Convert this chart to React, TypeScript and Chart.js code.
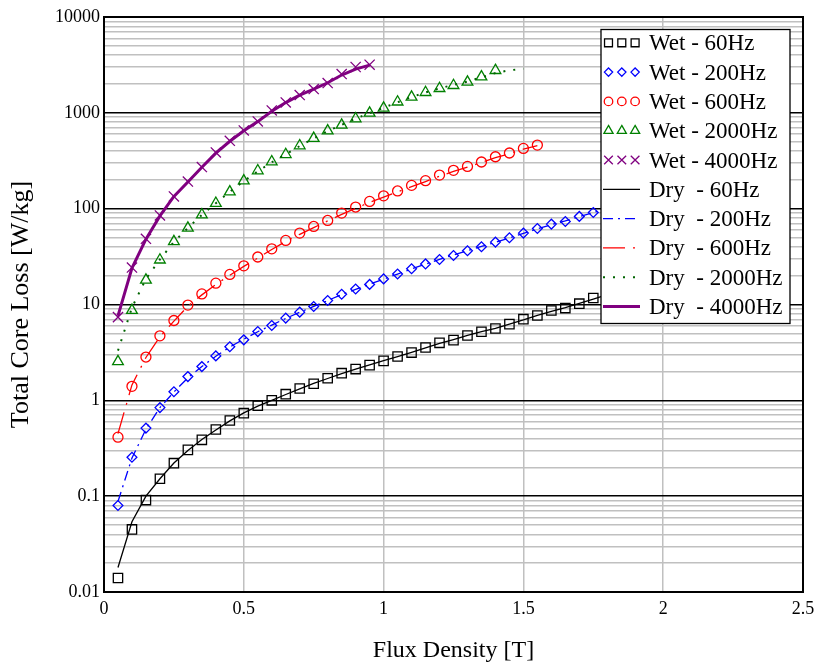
import { useEffect, useRef } from 'react';
import { Chart, registerables } from 'chart.js';

Chart.register(...registerables);

const SERIF = "'Liberation Serif', 'Times New Roman', serif";

// Flux density sampling points [T]
const FLUX = [
  0.05, 0.1, 0.15, 0.2, 0.25, 0.3, 0.35, 0.4, 0.45, 0.5,
  0.55, 0.6, 0.65, 0.7, 0.75, 0.8, 0.85, 0.9, 0.95, 1.0,
  1.05, 1.1, 1.15, 1.2, 1.25, 1.3, 1.35, 1.4, 1.45, 1.5,
  1.55, 1.6, 1.65, 1.7, 1.75, 1.8,
];

// Total core loss [W/kg], wet samples (markers)
const WET_60 = [
  0.014, 0.045, 0.091, 0.152, 0.221, 0.304, 0.387, 0.496, 0.616, 0.735,
  0.88, 1.0, 1.16, 1.33, 1.49, 1.7, 1.92, 2.12, 2.33, 2.58,
  2.87, 3.15, 3.56, 3.98, 4.25, 4.75, 5.19, 5.62, 6.24, 7.03,
  7.68, 8.65, 9.17, 10.2, 11.7,
];
const WET_200 = [
  0.08, 0.255, 0.513, 0.84, 1.23, 1.77, 2.25, 2.91, 3.62, 4.28,
  5.22, 6.04, 7.21, 8.32, 9.52, 11.0, 12.8, 14.5, 16.2, 18.5,
  20.8, 23.6, 26.5, 29.5, 32.5, 36.4, 40.0, 44.8, 49.7, 55.6,
  62.1, 69.0, 73.5, 83.0, 91.2,
];
const WET_600 = [
  0.413, 1.4, 2.83, 4.71, 6.81, 9.86, 12.9, 16.7, 20.6, 25.3,
  31.3, 38.1, 46.6, 55.6, 65.2, 75.3, 90, 104, 119, 136,
  153, 175, 196, 224, 251, 276, 307, 348, 381, 425,
  461,
];
const WET_2000 = [
  2.54, 8.7, 18.0, 29.2, 45.3, 62.7, 86.5, 114, 150, 195,
  249, 309, 368, 454, 542, 650, 746, 869, 995, 1120,
  1300, 1462, 1633, 1798, 1932, 2094, 2377, 2772,
];
const WET_4000 = [
  7.39, 24.3, 48.5, 84.9, 134, 192, 272, 386, 511, 655,
  813, 1059, 1284, 1534, 1772, 2046, 2539, 3008, 3178,
];

// Total core loss [W/kg], dry measurements (lines)
const DRY_60 = [
  0.018, 0.054, 0.1, 0.152, 0.222, 0.3, 0.39, 0.49, 0.61, 0.74,
  0.87, 1.0, 1.15, 1.32, 1.5, 1.69, 1.9, 2.12, 2.35, 2.6,
  2.86, 3.17, 3.52, 3.92, 4.3, 4.75, 5.2, 5.65, 6.25, 6.9,
  7.7, 8.5, 9.3, 10.3, 11.4, 12.7,
];
const DRY_200 = [
  0.088, 0.25, 0.5, 0.84, 1.22, 1.72, 2.25, 2.88, 3.6, 4.35,
  5.2, 6.1, 7.15, 8.3, 9.55, 11.0, 12.7, 14.4, 16.3, 18.4,
  20.8, 23.5, 26.4, 29.6, 32.8, 36.5, 40.3, 44.6, 49.6, 55.2,
  61.5, 68.0, 74.5, 82.5, 91.0, 100,
];
const DRY_600 = [
  0.45, 1.45, 2.8, 4.6, 6.7, 9.6, 12.6, 16.2, 20.2, 25.0,
  30.5, 37.5, 45.5, 54, 63.5, 74.5, 87, 101, 116, 132,
  150, 170, 192, 218, 245, 272, 303, 340, 375, 418,
  455,
];
const DRY_2000 = [
  3.3, 9.3, 18.5, 29.5, 45, 63, 86, 114, 150, 194,
  245, 305, 370, 450, 540, 645, 750, 870, 995, 1130,
  1290, 1460, 1630, 1800, 1960, 2120, 2350, 2600, 2780, 2880,
];
const DRY_4000 = [
  7.6, 24, 48, 84, 134, 190, 270, 380, 505, 650,
  810, 1040, 1280, 1530, 1770, 2060, 2480, 2860, 3150,
];

const X_TICKS = [0, 0.5, 1, 1.5, 2, 2.5];
const Y_DECADES = [0.01, 0.1, 1, 10, 100, 1000, 10000];

type Marker = 'rect' | 'rectRot' | 'circle' | 'triangle' | 'crossRot';

interface WetSeries { label: string; values: number[]; color: string; marker: Marker; radius: number; }
interface DrySeries { label: string; values: number[]; color: string; width: number; dash: number[]; }

const WET_SERIES: WetSeries[] = [
  { label: 'Wet - 60Hz', values: WET_60, color: '#000000', marker: 'rect', radius: 6.6 },
  { label: 'Wet - 200Hz', values: WET_200, color: '#0000ff', marker: 'rectRot', radius: 4.9 },
  { label: 'Wet - 600Hz', values: WET_600, color: '#ff0000', marker: 'circle', radius: 5 },
  { label: 'Wet - 2000Hz', values: WET_2000, color: '#008000', marker: 'triangle', radius: 6.2 },
  { label: 'Wet - 4000Hz', values: WET_4000, color: '#800080', marker: 'crossRot', radius: 7.2 },
];

const DRY_SERIES: DrySeries[] = [
  { label: 'Dry  - 60Hz', values: DRY_60, color: '#000000', width: 1.3, dash: [] },
  { label: 'Dry  - 200Hz', values: DRY_200, color: '#0000ff', width: 1.3, dash: [10, 5, 2, 5] },
  { label: 'Dry  - 600Hz', values: DRY_600, color: '#ff0000', width: 1.3, dash: [22, 8, 2, 8] },
  { label: 'Dry  - 2000Hz', values: DRY_2000, color: '#006400', width: 2, dash: [2, 8] },
  { label: 'Dry  - 4000Hz', values: DRY_4000, color: '#800080', width: 3, dash: [] },
];

const toPoints = (values: number[]) => values.map((y, i) => ({ x: FLUX[i], y }));

const isDecade = (v: number) => {
  const l = Math.log10(v);
  return Math.abs(l - Math.round(l)) < 1e-9;
};

const formatDecade = (v: number) =>
  v >= 1 ? String(Math.round(v)) : v.toFixed(Math.round(-Math.log10(v)));

// 1..9 multiples in each decade for the minor grid
const LOG_TICKS: number[] = (() => {
  const out: number[] = [];
  for (let d = 0; d < Y_DECADES.length - 1; d++) {
    for (let k = 1; k <= 9; k++) out.push(parseFloat((Y_DECADES[d] * k).toPrecision(3)));
  }
  out.push(Y_DECADES[Y_DECADES.length - 1]);
  return out;
})();

function drawMarker(ctx: CanvasRenderingContext2D, marker: Marker, x: number, y: number, r: number) {
  ctx.beginPath();
  switch (marker) {
    case 'rect': {
      const s = r * Math.SQRT1_2;
      ctx.rect(x - s, y - s, 2 * s, 2 * s);
      break;
    }
    case 'rectRot':
      ctx.moveTo(x - r, y);
      ctx.lineTo(x, y - r);
      ctx.lineTo(x + r, y);
      ctx.lineTo(x, y + r);
      ctx.closePath();
      break;
    case 'circle':
      ctx.arc(x, y, r, 0, Math.PI * 2);
      break;
    case 'triangle': {
      const a = (2 * Math.PI) / 3;
      ctx.moveTo(x, y - r);
      ctx.lineTo(x + Math.sin(a) * r, y - Math.cos(a) * r);
      ctx.lineTo(x + Math.sin(2 * a) * r, y - Math.cos(2 * a) * r);
      ctx.closePath();
      break;
    }
    case 'crossRot': {
      const s = r * Math.SQRT1_2;
      ctx.moveTo(x - s, y - s);
      ctx.lineTo(x + s, y + s);
      ctx.moveTo(x + s, y - s);
      ctx.lineTo(x - s, y + s);
      break;
    }
  }
  ctx.stroke();
}

const frameAndLegend = {
  id: 'frameAndLegend',
  afterDatasetsDraw(chart: Chart) {
    const { ctx, chartArea } = chart;
    ctx.save();
    ctx.strokeStyle = '#000';
    ctx.lineWidth = 2;
    ctx.strokeRect(chartArea.left, chartArea.top, chartArea.right - chartArea.left, chartArea.bottom - chartArea.top);
    ctx.restore();
  },
  afterDraw(chart: Chart) {
    const { ctx, chartArea } = chart;
    const left = chartArea.right - 202;
    const top = chartArea.top + 12.5;
    const width = 189;
    const height = 294;
    const rowGap = 29.3;
    ctx.save();
    ctx.fillStyle = '#fff';
    ctx.fillRect(left, top, width, height);
    ctx.strokeStyle = '#000';
    ctx.lineWidth = 1.3;
    ctx.strokeRect(left, top, width, height);

    ctx.font = `23px ${SERIF}`;
    ctx.textBaseline = 'middle';
    ctx.textAlign = 'left';

    let row = 0;
    for (const s of WET_SERIES) {
      const cy = top + 13.3 + row * rowGap;
      ctx.strokeStyle = s.color;
      ctx.lineWidth = 1.3;
      for (let k = 0; k < 3; k++) drawMarker(ctx, s.marker, left + 7.5 + k * 13.3, cy, s.radius * 0.85);
      ctx.fillStyle = '#000';
      ctx.fillText(s.label, left + 48, cy + 1.5);
      row++;
    }
    for (const s of DRY_SERIES) {
      const cy = top + 13.3 + row * rowGap;
      ctx.strokeStyle = s.color;
      ctx.lineWidth = s.width;
      ctx.setLineDash(s.dash);
      ctx.beginPath();
      ctx.moveTo(left + 2, cy);
      ctx.lineTo(left + 39, cy);
      ctx.stroke();
      ctx.setLineDash([]);
      ctx.fillStyle = '#000';
      ctx.fillText(s.label, left + 48, cy + 1.5);
      row++;
    }
    ctx.restore();
  },
};

export default function App() {
  const canvasRef = useRef<HTMLCanvasElement>(null);

  useEffect(() => {
    document.body.style.margin = '0';
    const canvas = canvasRef.current;
    if (!canvas) return;

    const datasets: any[] = [
      ...WET_SERIES.map((s) => ({
        label: s.label,
        data: toPoints(s.values),
        showLine: false,
        pointStyle: s.marker,
        pointRadius: s.radius,
        pointBorderWidth: 1.3,
        pointBorderColor: s.color,
        pointBackgroundColor: 'rgba(0,0,0,0)',
        borderColor: s.color,
        order: 2,
      })),
      ...DRY_SERIES.map((s) => ({
        label: s.label,
        data: toPoints(s.values),
        showLine: true,
        pointRadius: 0,
        borderColor: s.color,
        borderWidth: s.width,
        borderDash: s.dash,
        tension: 0,
        fill: false,
        order: 1,
      })),
    ];

    const chart = new Chart(canvas, {
      type: 'scatter',
      data: { datasets },
      options: {
        animation: false,
        responsive: false,
        events: [],
        layout: { padding: { top: 17, right: 15, left: 0, bottom: 0 } },
        plugins: {
          legend: { display: false },
          tooltip: { enabled: false },
        },
        scales: {
          x: {
            type: 'linear',
            min: 0,
            max: 2.5,
            afterBuildTicks: (scale: any) => {
              scale.ticks = X_TICKS.map((v) => ({ value: v }));
            },
            afterFit: (scale: any) => {
              scale.height = 73;
              scale.paddingLeft = 0;
              scale.paddingRight = 0;
            },
            ticks: {
              autoSkip: false,
              padding: 6,
              color: '#000',
              font: { family: SERIF, size: 18 },
              callback: (v: any) => String(v),
            },
            grid: { drawTicks: false, color: '#c0c0c0', lineWidth: 1.5 },
            border: { display: false },
            title: {
              display: true,
              text: 'Flux Density [T]',
              color: '#000',
              font: { family: SERIF, size: 24 },
              padding: { top: 0, bottom: 0 },
            },
          },
          y: {
            type: 'logarithmic',
            min: 0.01,
            max: 10000,
            afterBuildTicks: (scale: any) => {
              scale.ticks = LOG_TICKS.map((v) => ({ value: v }));
            },
            afterFit: (scale: any) => {
              scale.width = 104;
              scale.paddingTop = 0;
              scale.paddingBottom = 0;
            },
            ticks: {
              autoSkip: false,
              padding: 4,
              color: '#000',
              font: { family: SERIF, size: 18 },
              callback: (v: any) => (isDecade(Number(v)) ? formatDecade(Number(v)) : ''),
            },
            grid: {
              drawTicks: false,
              lineWidth: 1.5,
              color: (c: any) => (c.tick && isDecade(c.tick.value) ? '#000' : '#c0c0c0'),
            },
            border: { display: false },
            title: {
              display: true,
              text: 'Total Core Loss [W/kg]',
              color: '#000',
              font: { family: SERIF, size: 26 },
              padding: { top: 6, bottom: 0 },
            },
          },
        },
      },
      plugins: [frameAndLegend],
    } as any);

    return () => chart.destroy();
  }, []);

  return (
    <div style={{ width: 818, height: 665 }}>
      <canvas ref={canvasRef} width={818} height={665} style={{ display: 'block' }} />
    </div>
  );
}
